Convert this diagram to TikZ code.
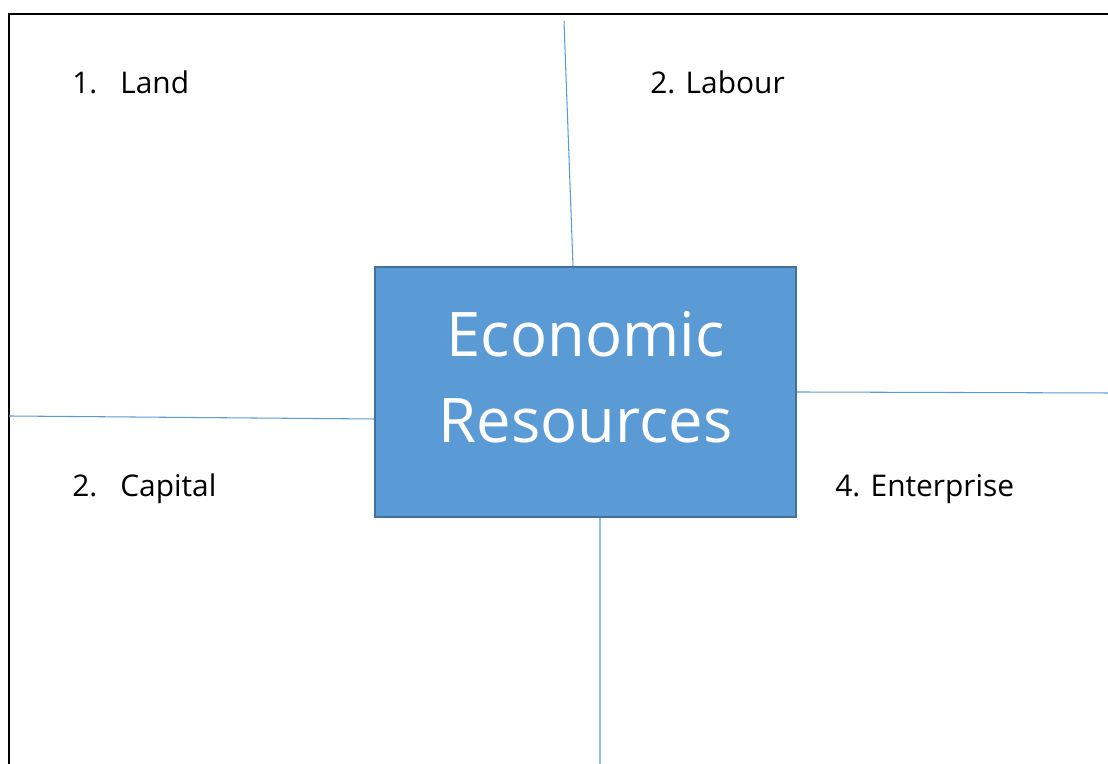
\documentclass[tikz,border=0pt]{standalone}
\usepackage{fontspec}
\setmainfont{Open Sans}
\definecolor{boxblue}{HTML}{5B9BD5}
\definecolor{boxedge}{HTML}{41719C}
\begin{document}
\begin{tikzpicture}[
        resbox/.style={draw=boxedge, line width=1.1pt, fill=boxblue, minimum width=8.42cm, minimum height=5cm, text depth=0.6cm, text=white, align=center, font=\fontsize{35}{49}\selectfont},
        spoke/.style={draw=boxblue, line width=0.6pt},
        factor/.style={anchor=base west, inner sep=0pt, font=\fontsize{17}{20}\selectfont} % the four headings
    ]
    \clip (0,0) rectangle (22.16,15.28);
    \draw[line width=1.2pt] (0.18,-1) -- (0.18,15.0) -- (23,15.0);
    \node[resbox] (econ) at (11.71,7.44) {Economic\\Resources};
    % free ends of the dividing lines
    \coordinate (topend) at (11.28,14.86);
    \coordinate (leftend) at (0.18,6.96);
    \coordinate (rightend) at (22.16,7.42);
    \coordinate (bottomend) at (12.0,0);
    \draw[spoke] ([xshift=-0.25cm]econ.north) -- (topend);
    \draw[spoke] ([yshift=-0.54cm]econ.west) -- (leftend);
    \draw[spoke] (econ.east) -- (rightend);
    \draw[spoke] ([xshift=0.29cm]econ.south) -- (bottomend);
    \node[factor] (land) at (1.44,13.4) {\makebox[0.96cm][l]{1.}Land};
    \node[factor] (labour) at (13.0,13.4) {2. Labour};
    \node[factor] (capital) at (1.44,5.34) {\makebox[0.96cm][l]{2.}Capital};
    \node[factor] (enterprise) at (16.7,5.34) {4. Enterprise};
\end{tikzpicture}
\end{document}
